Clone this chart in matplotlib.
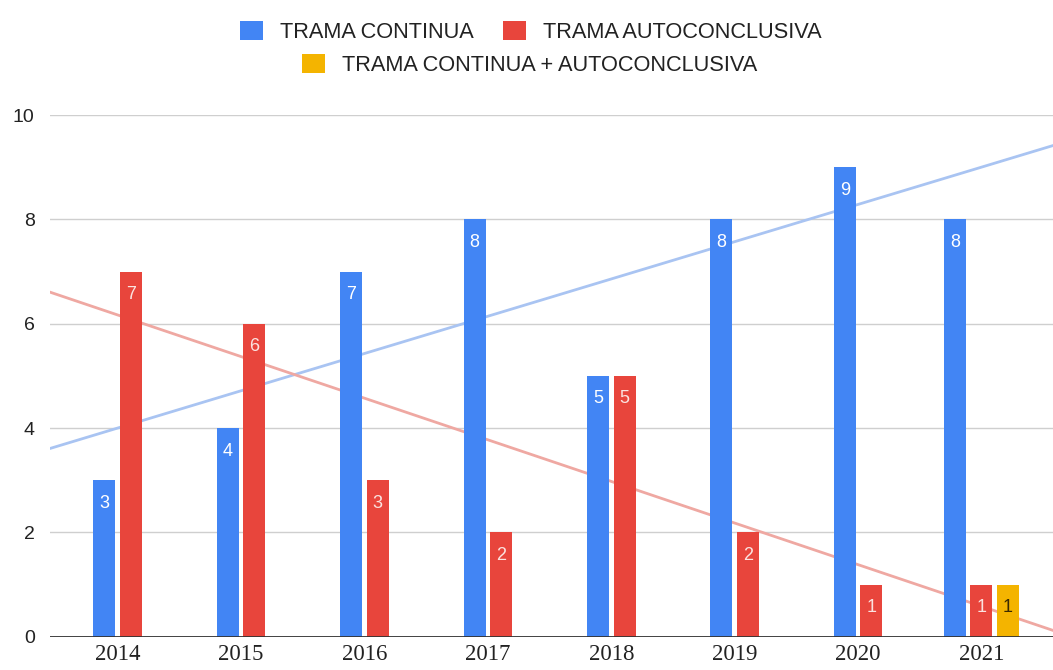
import numpy as np
import matplotlib
matplotlib.use("Agg")
import matplotlib.pyplot as plt
from matplotlib.patches import Patch

# ---- data ----
years = ["2014", "2015", "2016", "2017", "2018", "2019", "2020", "2021"]
trama_continua = [3, 4, 7, 8, 5, 8, 9, 8]
trama_auto = [7, 6, 3, 2, 5, 2, 1, 1]
trama_mix = [None, None, None, None, None, None, None, 1]
series_names = ["TRAMA CONTINUA", "TRAMA AUTOCONCLUSIVA", "TRAMA CONTINUA + AUTOCONCLUSIVA"]
yticks = [0, 2, 4, 6, 8, 10]

# ---- style ----
c_blue = "#4285F4"
c_red = "#E8453C"
c_yellow = "#F4B400"
c_blue_trend = "#A9C4F2"
c_red_trend = "#EFA8A2"

fig = plt.figure(figsize=(10.53, 6.70), dpi=100)
ax = fig.add_axes([50 / 1053, 33.3 / 670, 1 - 50 / 1053, (636.7 - 115) / 670])

x = np.arange(len(years))
series = [trama_continua, trama_auto, trama_mix]
colors = [c_blue, c_red, c_yellow]
label_colors = ["white", "#FBE3E0", "#3A2A00"]
width = 0.178
step = 0.215

# gridlines
for yv in yticks[1:]:
    ax.axhline(yv, color="#CFCFCF", lw=1.0, zorder=0)

# trend lines (linear regression)
xs = np.array([-0.6, 7.7])
for vals, col in [(trama_continua, c_blue_trend), (trama_auto, c_red_trend)]:
    k, b = np.polyfit(x, vals, 1)
    ax.plot(xs, k * xs + b, color=col, lw=2.0, zorder=1)

# bars
for i in range(len(years)):
    present = [s for s in range(3) if series[s][i] is not None]
    n = len(present)
    for j, s in enumerate(present):
        v = series[s][i]
        xc = x[i] + (j - (n - 1) / 2) * step
        ax.bar(xc, v, width=width, color=colors[s], zorder=2)
        ax.annotate(str(v), (xc, v), xytext=(0, -23), textcoords="offset pixels",
                    ha="center", va="center", fontsize=13, color=label_colors[s],
                    family="Liberation Sans", zorder=3)

ax.axhline(0, color="#333333", lw=1.3, zorder=4)

ax.set_xlim(-0.549, 7.58)
ax.set_ylim(0, 10)
ax.set_xticks(x)
ax.set_xticklabels(years, family="Liberation Serif", fontsize=16.5, color="#222222")
ax.set_yticks(yticks)
ax.set_yticklabels([str(t) for t in yticks], family="Liberation Sans", fontsize=14, color="#222222")
ax.tick_params(axis="both", length=0)
ax.tick_params(axis="x", pad=5)
ax.tick_params(axis="y", pad=11)
for sp in ax.spines.values():
    sp.set_visible(False)

# legend
h1 = [Patch(facecolor=c_blue, label=series_names[0]), Patch(facecolor=c_red, label=series_names[1])]
h2 = [Patch(facecolor=c_yellow, label=series_names[2])]
leg_kw = dict(frameon=False, handlelength=1.05, handleheight=0.92, handletextpad=0.78,
              columnspacing=1.37, borderpad=0, borderaxespad=0,
              prop={"family": "Liberation Sans", "size": 15.7})
l1 = fig.legend(handles=h1, loc="center", bbox_to_anchor=(531 / 1053, 1 - 32 / 670), ncol=2, **leg_kw)
l2 = fig.legend(handles=h2, loc="center", bbox_to_anchor=(530 / 1053, 1 - 65 / 670), ncol=1, **leg_kw)
for t in list(l1.get_texts()) + list(l2.get_texts()):
    t.set_color("#222222")

fig.savefig("out.png", dpi=100)
